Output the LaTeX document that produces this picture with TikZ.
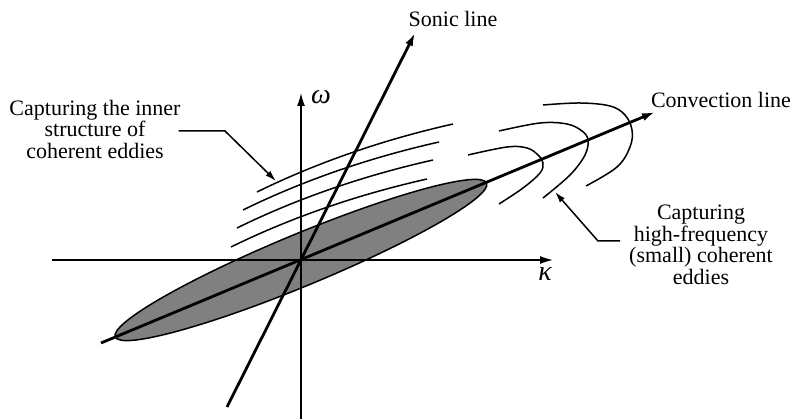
\documentclass[tikz,border=0pt]{standalone}
\usepackage{fontspec}
\setmainfont{Liberation Serif}
\usetikzlibrary{arrows.meta}
\begin{document}
\begin{tikzpicture}[x=1pt,y=-1pt,
  lbl/.style={align=center,inner sep=1pt,font=\fontsize{22}{21.5}\selectfont},
  sym/.style={inner sep=1pt,font=\fontsize{28}{28}\selectfont\itshape},
  axis/.style={line width=1.3pt},
  bold/.style={line width=2.8pt},
  eddy/.style={line width=1.5pt},
  pointer/.style={line width=1.5pt,-{Latex[length=11pt,width=6.5pt]}},
  lens/.style={draw,line width=1.5pt,fill={rgb,255:red,128;green,128;blue,128}},
  tip/.style={-{Latex[length=13pt,width=8pt]}}]
\useasboundingbox (0,0) rectangle (790,419);
% key points
\coordinate (O) at (301,260);
\coordinate (k0) at (52,260);
\coordinate (k1) at (553,260);
\coordinate (w0) at (301,419);
\coordinate (w1) at (301,93);
\coordinate (s0) at (227,407);
\coordinate (s1) at (415,33);
\coordinate (c0) at (101,343);
\coordinate (c1) at (655,112);
% shaded lens
\path[lens,rotate around={22.5:(O)}] (O) ellipse [x radius=201, y radius=26];
% axes
\draw[axis,tip] (k0) -- (k1);
\draw[axis,tip] (w0) -- (w1);
\node[sym] (kap) at (545,274) {κ};
\node[sym] (om) at (321,97) {ω};
% sonic and convection lines
\draw[bold,tip] (s0) -- (s1);
\draw[bold,tip] (c0) -- (c1);
\node[lbl] (sonic) at (453,19) {Sonic line};
\node[lbl] (conv) at (721,100) {Convection line};
% inner-structure curves
\foreach \sx/\sy in {257/192, 243/210, 237/228, 231/247}{
  \draw[eddy] (\sx,\sy) .. controls +(59,-29) and +(-71,16) .. +(196,-68);
}
% high-frequency hooks
\draw[eddy] plot[smooth,tension=0.6] coordinates {(468,155) (507,147) (527,148) (538,155) (543,163) (540,173) (523,188) (499,204)};
\draw[eddy] plot[smooth,tension=0.6] coordinates {(499,131) (540,123) (567,124) (582,131) (588,140) (585,155) (570,175) (543,198)};
\draw[eddy] plot[smooth,tension=0.6] coordinates {(543,105) (580,103) (610,106) (625,115) (632,130) (630,147) (617,167) (586,186)};
% labels with pointers
\node[lbl] (inner) at (95,129) {Capturing the inner\\structure of\\coherent eddies};
\coordinate (e1) at (225,131);
\coordinate (t1) at (276,181);
\draw[pointer] ([xshift=-3pt]inner.east |- e1) -- (e1) -- (t1);
\node[lbl] (hf) at (701,245) {Capturing\\high-frequency\\(small) coherent\\eddies};
\coordinate (e2) at (598,241);
\coordinate (t2) at (555,192);
\draw[pointer] ([xshift=-8pt]hf.west |- e2) -- (e2) -- (t2);
\end{tikzpicture}
\end{document}
